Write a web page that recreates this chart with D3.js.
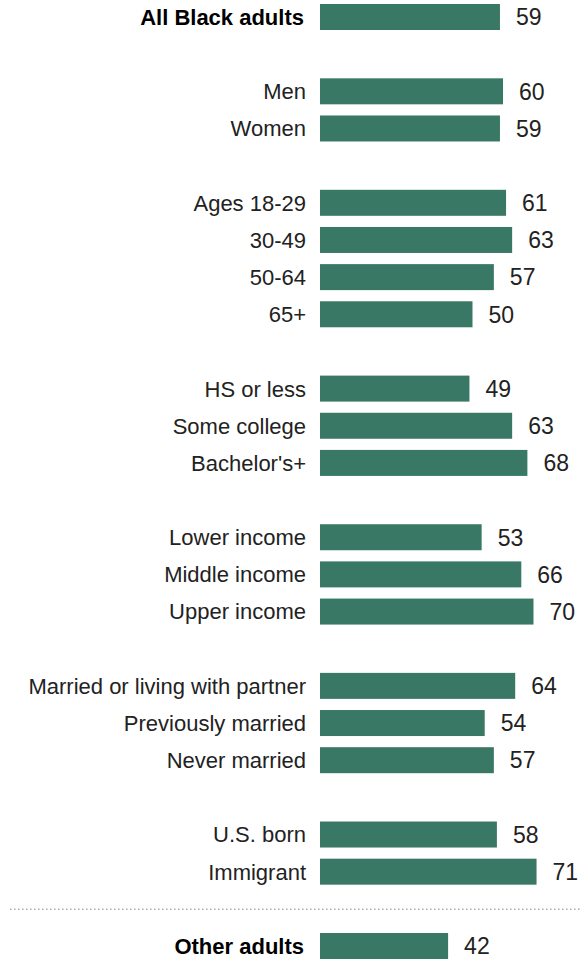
<!DOCTYPE html>
<html>
<head>
<meta charset="utf-8">
<script src="https://cdn.jsdelivr.net/npm/d3@7"></script>
<style>
  body { margin: 0; background: #fff; }
  svg text { font-family: "Liberation Sans", Arial, sans-serif; fill: #222; }
  .bold { font-weight: bold; fill: #000; }
</style>
</head>
<body>
<svg id="chart" width="582" height="961"></svg>
<script>
// categories, in the order they are drawn (slot = row index, gaps between groups)
const categories = [
    "All Black adults",
    "Men", "Women",
    "Ages 18-29", "30-49", "50-64", "65+",
    "HS or less", "Some college", "Bachelor's+",
    "Lower income", "Middle income", "Upper income",
    "Married or living with partner", "Previously married", "Never married",
    "U.S. born", "Immigrant",
    "Other adults"
];
const values = [59, 60, 59, 61, 63, 57, 50, 49, 63, 68, 53, 66, 70, 64, 54, 57, 58, 71, 42];
const slots = [0, 2, 3, 5, 6, 7, 8, 10, 11, 12, 14, 15, 16, 18, 19, 20, 22, 23, 25];
const boldRows = ["All Black adults", "Other adults"];

const data = categories.map((c, i) => ({ label: c, value: values[i], slot: slots[i] }));

const barH = 26;
const x = d3.scaleLinear().domain([0, 100]).range([320, 625]);
const y = d3.scaleLinear().domain([0, 25]).range([17, 946]);

const svg = d3.select("#chart");

// dotted separator above "Other adults"
svg.append("line")
    .attr("x1", 10)
    .attr("x2", 582)
    .attr("y1", (y(23) + y(25)) / 2 + 0.5)
    .attr("y2", (y(23) + y(25)) / 2 + 0.5)
    .attr("stroke", "#aaa")
    .attr("stroke-width", 1.5)
    .attr("stroke-dasharray", "1.5,2.5");

const rows = svg.selectAll(".row")
    .data(data)
    .join("g")
    .attr("class", "row")
    .attr("transform", d => `translate(0,${y(d.slot)})`);

rows.append("rect")
    .attr("x", x(0))
    .attr("y", -barH / 2)
    .attr("width", d => x(d.value) - x(0))
    .attr("height", barH)
    .attr("fill", "#3a7866");

rows.append("text")
    .attr("x", d => boldRows.includes(d.label) ? 304 : 306)
    .attr("dy", "0.36em")
    .attr("text-anchor", "end")
    .attr("font-size", 22)
    .attr("class", d => boldRows.includes(d.label) ? "bold" : null)
    .text(d => d.label);

rows.append("text")
    .attr("x", d => x(d.value) + 16)
    .attr("dy", "0.36em")
    .attr("font-size", 23)
    .text(d => d.value);
</script>
</body>
</html>
